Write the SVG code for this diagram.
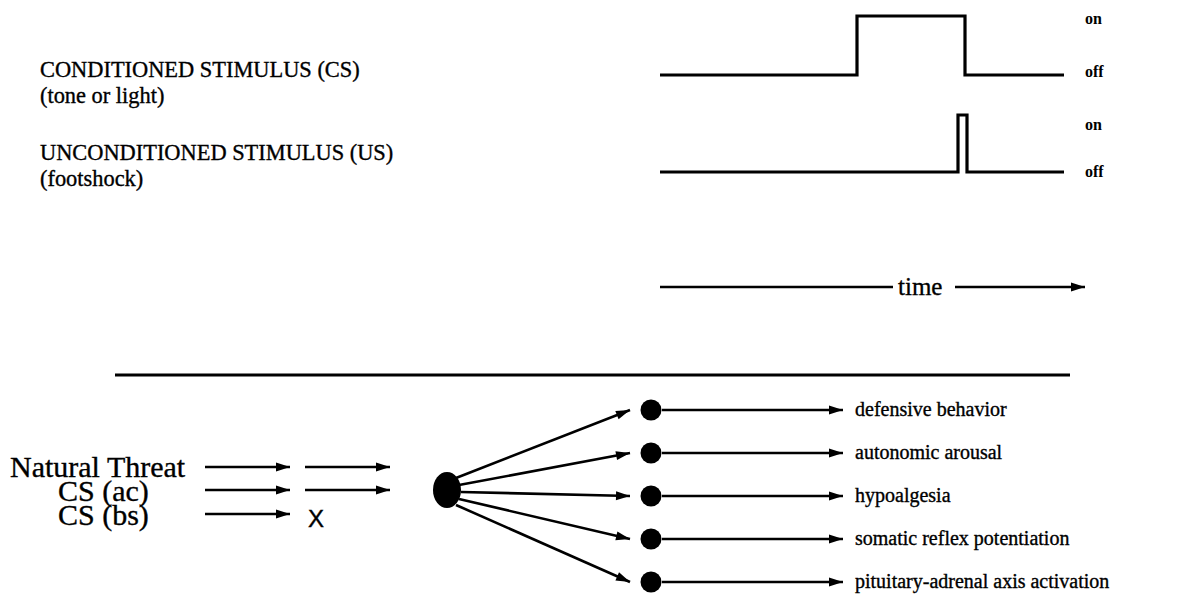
<svg xmlns="http://www.w3.org/2000/svg" width="1189" height="594" viewBox="0 0 1189 594">
<style>
.t{font-family:"Liberation Serif","Times New Roman",serif;fill:#000;stroke:#000;stroke-width:0.35}
.big{font-size:22.4px}
.lab{font-size:16px;font-weight:bold;stroke-width:0}
.out{font-size:20px}
.left{font-size:30px}
.wave{fill:none;stroke:#000;stroke-width:3.2}
.ln{fill:none;stroke:#000;stroke-width:2.6}
</style>
<defs>
<marker id="ah" viewBox="0 0 14 10" refX="14" refY="5" markerWidth="15" markerHeight="10" markerUnits="userSpaceOnUse" orient="auto">
<path d="M0,0.5 L14,5 L0,9.5 Z" fill="#000"/>
</marker>
</defs>
<rect width="1189" height="594" fill="#fff"/>
<g id="labels-top">
<text class="t big" x="40" y="77">CONDITIONED STIMULUS (CS)</text>
<text class="t big" x="40" y="103">(tone or light)</text>
<text class="t big" x="40" y="160">UNCONDITIONED STIMULUS (US)</text>
<text class="t big" x="40" y="186">(footshock)</text>
</g>
<g id="cs-trace">
<path class="wave" d="M660,75 H857 V16 H965 V75 H1064"/>
<text class="t lab" x="1085" y="24">on</text>
<text class="t lab" x="1085" y="77">off</text>
</g>
<g id="us-trace">
<path class="wave" d="M660,172 H958 V115 H967 V172 H1064"/>
<text class="t lab" x="1085" y="130">on</text>
<text class="t lab" x="1085" y="177">off</text>
</g>
<g id="time-axis">
<path class="ln" d="M660,287 H893"/>
<text class="t" x="898" y="295" font-size="25">time</text>
<path class="ln" d="M955,287 H1085" marker-end="url(#ah)"/>
</g>
<path id="separator" d="M115,375 H1070" stroke="#000" stroke-width="3.2"/>
<g id="inputs">
<text class="t left" x="10" y="477">Natural Threat</text>
<text class="t left" x="58" y="501">CS (ac)</text>
<text class="t left" x="58" y="525">CS (bs)</text>
<text x="308" y="527" font-family="Liberation Sans, Arial, sans-serif" font-size="24" stroke="#000" stroke-width="0.4">X</text>
</g>
<g id="node-amygdala">
<ellipse cx="447" cy="490" rx="14" ry="18" fill="#000"/>
</g>
<g id="out-1"><circle cx="651" cy="410" r="10.5"/><text class="t out" x="855" y="416">defensive behavior</text></g>
<g id="out-2"><circle cx="651" cy="453" r="10.5"/><text class="t out" x="855" y="459">autonomic arousal</text></g>
<g id="out-3"><circle cx="651" cy="496" r="10.5"/><text class="t out" x="855" y="502">hypoalgesia</text></g>
<g id="out-4"><circle cx="651" cy="539" r="10.5"/><text class="t out" x="855" y="545">somatic reflex potentiation</text></g>
<g id="out-5"><circle cx="651" cy="582" r="10.5"/><text class="t out" x="855" y="588">pituitary-adrenal axis activation</text></g>
<g id="connectors" class="ln" marker-end="url(#ah)">
<path d="M205,467 H290"/>
<path d="M305,467 H390"/>
<path d="M205,490 H290"/>
<path d="M305,490 H390"/>
<path d="M205,514 H290"/>
<path d="M456,478 L630,410"/>
<path d="M459,485 L630,453"/>
<path d="M461,492 L630,496"/>
<path d="M459,499 L630,539"/>
<path d="M456,505 L630,582"/>
<path d="M662,410 H843"/>
<path d="M662,453 H843"/>
<path d="M662,496 H843"/>
<path d="M662,539 H843"/>
<path d="M662,582 H843"/>
</g>
</svg>
